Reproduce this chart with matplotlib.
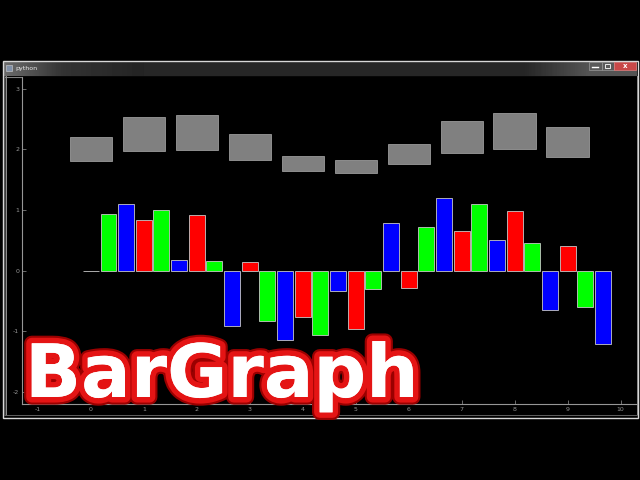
import numpy as np
import matplotlib
matplotlib.use("Agg")
import matplotlib.pyplot as plt
import matplotlib.patheffects as pe
from matplotlib.patches import Rectangle

plt.rcParams["axes.unicode_minus"] = False

# bar data
x = np.arange(10)
red_h = [0.0, 0.84, 0.91, 0.14, -0.76, -0.96, -0.28, 0.66, 0.99, 0.41]
green_h = [0.93, 1.00, 0.16, -0.83, -1.06, -0.31, 0.72, 1.09, 0.45, -0.60]
blue_h = [1.09, 0.17, -0.91, -1.15, -0.34, 0.79, 1.19, 0.50, -0.65, -1.20]
gray_mid = [2.00, 2.25, 2.27, 2.04, 1.77, 1.71, 1.92, 2.20, 2.30, 2.12]
gray_h = [0.40, 0.57, 0.58, 0.43, 0.25, 0.21, 0.34, 0.53, 0.60, 0.48]
xticks = list(range(-1, 11))
yticks = list(range(-2, 4))

W, H = 640, 480
fig = plt.figure(figsize=(6.4, 4.8), dpi=100, facecolor="black")

# window frame drawn in pixel coords
bg = fig.add_axes([0, 0, 1, 1], zorder=-1)
bg.set_xlim(0, W)
bg.set_ylim(H, 0)
bg.axis("off")
bg.set_facecolor("black")

# title bar gradient
grad = np.full(633, 0.15)
grad[:60] = np.linspace(0.42, 0.2, 60)
grad[60:140] = np.linspace(0.2, 0.14, 80)
grad[520:585] = np.linspace(0.15, 0.33, 65)
grad[585:] = 0.33
bg.imshow(grad[None, :], extent=(4, 637, 76, 61), cmap="gray", vmin=0, vmax=1,
          aspect="auto", zorder=1)
bg.add_patch(Rectangle((3, 61), 635, 357, fill=False, ec="#d8d8d8", lw=1.0, zorder=3))
bg.add_patch(Rectangle((3.5, 76), 2, 340, fc="#3a3a3a", ec="none", zorder=2))
bg.plot([5, 637], [76.5, 76.5], color="#808080", lw=0.8, zorder=3)
bg.plot([5.5, 5.5], [76, 415], color="#909090", lw=0.7, zorder=3)
bg.plot([636.5, 636.5], [76, 415], color="#909090", lw=0.7, zorder=3)
bg.plot([5, 637], [415, 415], color="#606060", lw=0.7, zorder=3)

# title bar bits
bg.add_patch(Rectangle((6, 64.5), 6, 6, fc="#8090a8", ec="#d0d0d0", lw=0.4, zorder=4))
bg.text(15, 68.5, "python", color="#e8e8e8", fontsize=4.5, va="center", zorder=4)
bg.add_patch(Rectangle((589, 62), 13, 8, fc="#5a5a5a", ec="#9a9a9a", lw=0.5, zorder=4))
bg.add_patch(Rectangle((602, 62), 12, 8, fc="#5a5a5a", ec="#9a9a9a", lw=0.5, zorder=4))
bg.add_patch(Rectangle((614, 62), 22, 8, fc="#c84848", ec="#e08080", lw=0.5, zorder=4))
bg.plot([592, 598], [67, 67], color="white", lw=1.0, zorder=5)
bg.add_patch(Rectangle((605, 63.8), 5, 4, fill=False, ec="white", lw=0.6, zorder=5))
bg.text(625, 66.5, "x", color="white", fontsize=5, ha="center", va="center",
        fontweight="bold", zorder=5)

# plot area
ax = fig.add_axes([22 / W, 1 - 404 / H, (637 - 22) / W, (404 - 77) / H])
ax.set_facecolor("black")
ax.set_xlim(-1.303, 10.31)
ax.set_ylim(-2.196, 3.19)

edge = "#c8c8c8"
ax.bar(x, gray_h, bottom=np.array(gray_mid) - np.array(gray_h) / 2, width=0.8,
       color="#808080", edgecolor="#9a9a9a", linewidth=0.6)
ax.bar(x, red_h, width=0.3, color="#ff0000", edgecolor=edge, linewidth=0.6)
ax.bar(x + 0.33, green_h, width=0.3, color="#00ff00", edgecolor=edge, linewidth=0.6)
ax.bar(x + 0.66, blue_h, width=0.3, color="#0000ff", edgecolor=edge, linewidth=0.6)

for side in ["top", "right"]:
    ax.spines[side].set_visible(False)
for side in ["left", "bottom"]:
    ax.spines[side].set_color("#969696")
    ax.spines[side].set_linewidth(0.8)
ax.set_xticks(xticks)
ax.set_yticks(yticks)
ax.tick_params(direction="in", length=3, width=0.5, colors="#969696",
               labelsize=4.5, pad=2)

# big overlay title
fig.text(25 / W, 1 - 397 / H, "BarGraph", fontsize=53, fontweight="bold",
         family="DejaVu Sans", color="white", va="baseline", ha="left", zorder=10,
         path_effects=[pe.withStroke(linewidth=11, foreground="#9a0000"),
                       pe.withStroke(linewidth=8, foreground="#e41414"),
                       pe.Normal()])

fig.savefig("out.png", dpi=100, facecolor="black")
